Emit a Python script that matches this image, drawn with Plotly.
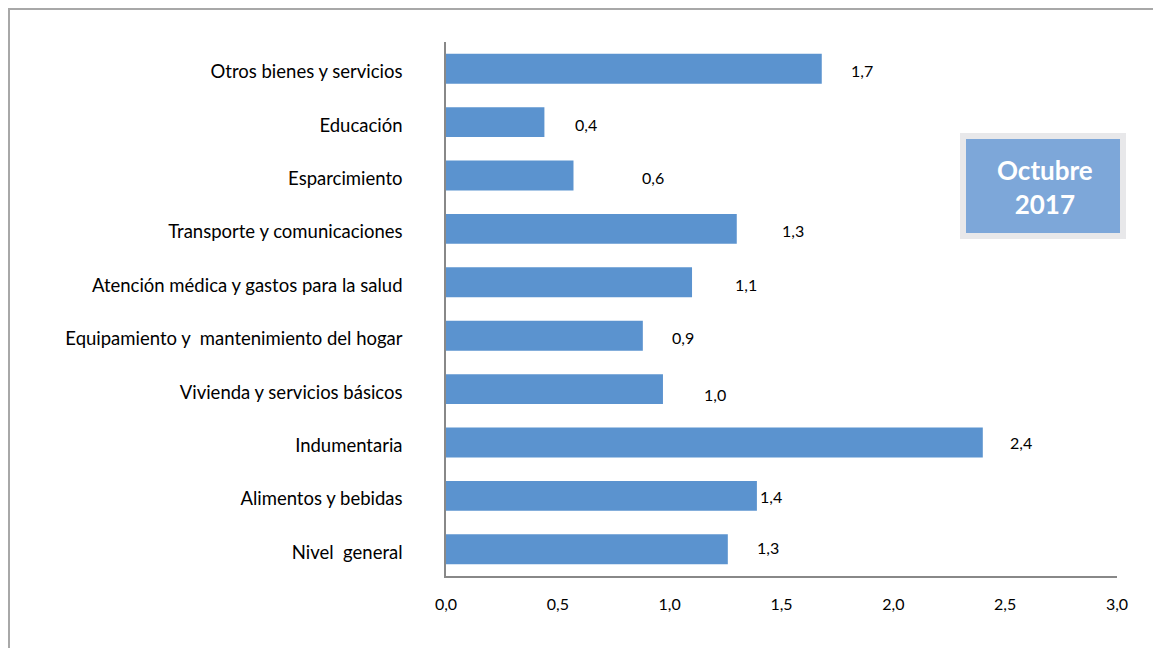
import plotly.graph_objects as go

categories = [
    "Otros bienes y servicios",
    "Educación",
    "Esparcimiento",
    "Transporte y comunicaciones",
    "Atención médica y gastos para la salud",
    "Equipamiento y\u00a0 mantenimiento del hogar",
    "Vivienda y servicios básicos",
    "Indumentaria",
    "Alimentos y bebidas",
    "Nivel\u00a0 general",
]
values = [1.68, 0.44, 0.57, 1.30, 1.10, 0.88, 0.97, 2.40, 1.39, 1.26]
value_labels = ["1,7", "0,4", "0,6", "1,3", "1,1", "0,9", "1,0", "2,4", "1,4", "1,3"]
x_ticks = [0.0, 0.5, 1.0, 1.5, 2.0, 2.5, 3.0]

# label placement offsets (style only)
label_xshift = [40, 42, 80, 56, 54, 40, 52, 38, 14, 40]
label_yshift = [-2, -2, -2, -2, -2, -2, -5, 0, -1, 2]

FONT = "Lato"
OFF = 8  # page offset of the figure
W, H = 1161 - OFF, 648 - OFF
L, R, T, B = 446 - OFF, 44, 42 - OFF, 72
pw, ph = W - L - R, H - T - B

def px_x(p):
    return (p - OFF - L) / pw

def px_y(p):
    return (H - B - (p - OFF)) / ph

fig = go.Figure()
fig.add_trace(go.Bar(
    x=values, y=categories, orientation="h",
    marker=dict(color="#5b93cf", line=dict(width=0)),
    width=0.56, hoverinfo="skip",
))

for v, lab, c, dx, dy in zip(values, value_labels, categories, label_xshift, label_yshift):
    fig.add_annotation(x=v, y=c, text=lab, showarrow=False, xanchor="center",
                       xshift=dx, yshift=dy,
                       font=dict(family=FONT, size=16, color="#000000"))

# outer chart border (top and left edges)
border = dict(color="#a8a8a8", width=2)
fig.add_shape(type="line", xref="paper", yref="paper",
              x0=px_x(9), x1=px_x(1170), y0=px_y(9), y1=px_y(9), line=border, layer="below")
fig.add_shape(type="line", xref="paper", yref="paper",
              x0=px_x(9), x1=px_x(9), y0=px_y(8), y1=px_y(660), line=border, layer="below")

# label box
fig.add_shape(type="rect", xref="paper", yref="paper",
              x0=px_x(963), x1=px_x(1123), y0=px_y(136), y1=px_y(236),
              line=dict(color="#e8e8ea", width=6), fillcolor="#7da7d9")
fig.add_annotation(xref="paper", yref="paper", x=px_x(1045), y=px_y(187),
                   text="<b>Octubre<br>2017</b>", showarrow=False,
                   xanchor="center", yanchor="middle",
                   font=dict(family=FONT, size=26, color="#ffffff"))

fig.update_layout(
    width=W, height=H,
    margin=dict(l=L, r=R, t=T, b=B),
    paper_bgcolor="#ffffff", plot_bgcolor="#ffffff",
    separators=",.",
    showlegend=False,
    font=dict(family=FONT, size=18, color="#000000"),
)
fig.update_xaxes(range=[0, 3], tickvals=x_ticks, tickformat=".1f",
                 showgrid=False, zeroline=False, showline=True,
                 linecolor="#888888", linewidth=1.5, ticks="",
                 ticklabelstandoff=13,
                 tickfont=dict(family=FONT, size=16, color="#000000"))
fig.update_yaxes(autorange="reversed", showgrid=False, zeroline=False,
                 showline=True, linecolor="#888888", linewidth=1.5, ticks="",
                 ticklabelstandoff=38, ticklabelshift=-3,
                 tickfont=dict(family=FONT, size=18.5, color="#000000"))

fig.write_html("out.html")
